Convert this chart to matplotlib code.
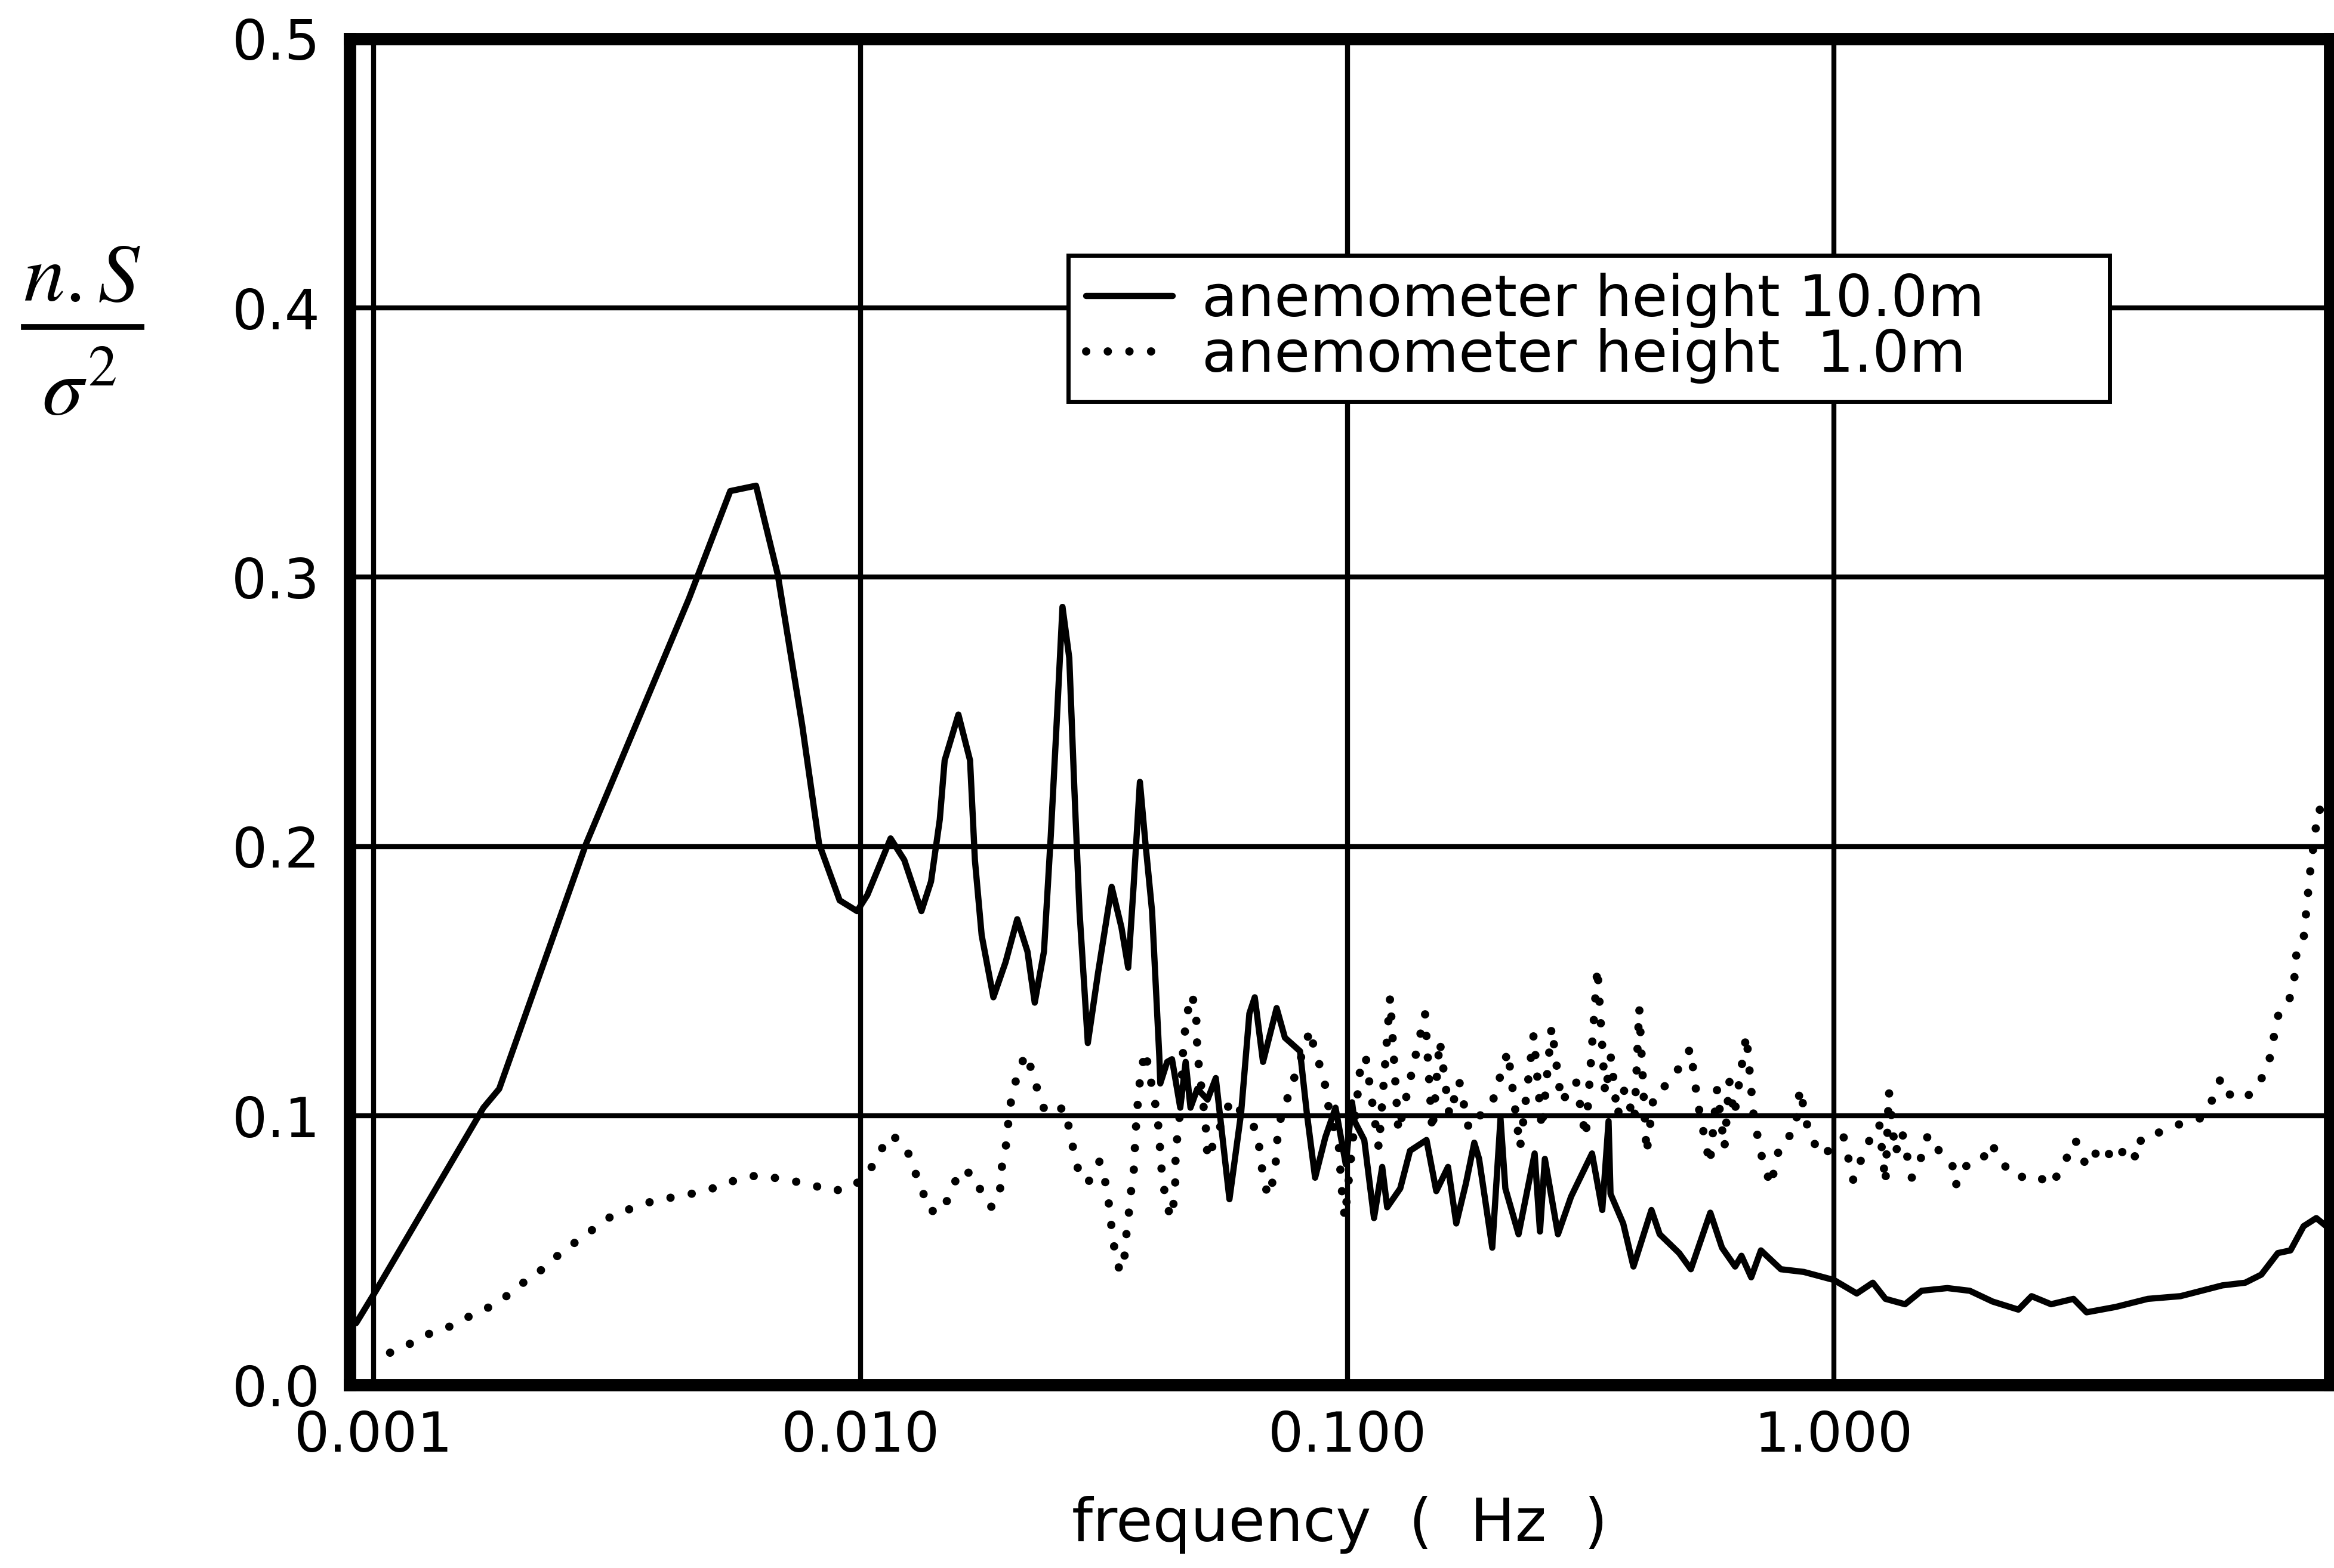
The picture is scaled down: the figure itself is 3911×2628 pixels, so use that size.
import matplotlib
matplotlib.use('Agg')
import matplotlib.pyplot as plt
from matplotlib.ticker import FixedLocator, FixedFormatter, NullLocator
from matplotlib.lines import Line2D

# ---------------- data ----------------
freq_10m = [0.00092, 0.00101, 0.00168, 0.00181, 0.00273, 0.00444, 0.00540, 0.00610, 0.00676, 0.00759,
            0.00822, 0.00906, 0.00984, 0.01033, 0.01153, 0.01230, 0.01334, 0.01396, 0.01455, 0.01489,
            0.01589, 0.01679, 0.01718, 0.01774, 0.01875, 0.01986, 0.02099, 0.02203, 0.02280, 0.02382,
            0.02460, 0.02523, 0.02600, 0.02685, 0.02748, 0.02818, 0.02931, 0.03076, 0.03281, 0.03436,
            0.03548, 0.03639, 0.03750, 0.03846, 0.03972, 0.04111, 0.04130, 0.04266, 0.04365, 0.04539,
            0.04656, 0.04764, 0.04920, 0.05164, 0.05370, 0.05728, 0.06053, 0.06295, 0.06457, 0.06714,
            0.07161, 0.07447, 0.07998, 0.08260, 0.08590, 0.09016, 0.09462, 0.09931, 0.1023, 0.1035,
            0.1084, 0.1135, 0.1180, 0.1208, 0.1285, 0.1346, 0.1455, 0.1524, 0.1611, 0.1675,
            0.1754, 0.1824, 0.1866, 0.1986, 0.2065, 0.2113, 0.2249, 0.2427, 0.2489, 0.2547,
            0.2710, 0.2884, 0.3184, 0.3342, 0.3443, 0.3475, 0.3690, 0.3873, 0.4217, 0.4385,
            0.4808, 0.5082, 0.5572, 0.5888, 0.6266, 0.6457, 0.6761, 0.7079, 0.7780, 0.8670,
            1.000, 1.114, 1.202, 1.276, 1.400, 1.514, 1.710, 1.901, 2.118, 2.393,
            2.547, 2.793, 3.105, 3.304, 3.793, 4.416, 5.152, 6.281, 6.998, 7.551,
            8.166, 8.670, 9.226, 9.795, 10.43]
spec_10m = [0.023, 0.035, 0.103, 0.110, 0.201, 0.292, 0.332, 0.334, 0.301, 0.245,
            0.201, 0.180, 0.176, 0.182, 0.203, 0.195, 0.176, 0.187, 0.210, 0.232,
            0.249, 0.232, 0.195, 0.167, 0.144, 0.157, 0.173, 0.161, 0.142, 0.161,
            0.204, 0.242, 0.289, 0.270, 0.223, 0.176, 0.127, 0.153, 0.185, 0.170,
            0.155, 0.185, 0.224, 0.202, 0.176, 0.122, 0.112, 0.120, 0.121, 0.103,
            0.120, 0.103, 0.110, 0.106, 0.114, 0.069, 0.101, 0.138, 0.144, 0.120,
            0.140, 0.129, 0.124, 0.101, 0.077, 0.092, 0.103, 0.082, 0.105, 0.098,
            0.091, 0.062, 0.081, 0.066, 0.073, 0.087, 0.091, 0.072, 0.081, 0.060,
            0.075, 0.090, 0.084, 0.051, 0.099, 0.073, 0.056, 0.086, 0.057, 0.084,
            0.056, 0.070, 0.086, 0.065, 0.098, 0.071, 0.060, 0.044, 0.065, 0.056,
            0.049, 0.043, 0.064, 0.051, 0.044, 0.048, 0.040, 0.050, 0.043, 0.042,
            0.039, 0.034, 0.038, 0.032, 0.030, 0.035, 0.036, 0.035, 0.031, 0.028,
            0.033, 0.030, 0.032, 0.027, 0.029, 0.032, 0.033, 0.037, 0.038, 0.041,
            0.049, 0.050, 0.059, 0.062, 0.058]

freq_1m = [0.00108, 0.00121, 0.00133, 0.00145, 0.00159, 0.00173, 0.00191, 0.00206, 0.00222, 0.00242,
           0.00264, 0.00288, 0.00315, 0.00347, 0.00382, 0.00428, 0.00471, 0.00522, 0.00566, 0.00630,
           0.00700, 0.00780, 0.00863, 0.00951, 0.01033, 0.01091, 0.01153, 0.01239, 0.01279, 0.01334,
           0.01374, 0.01466, 0.01538, 0.01600, 0.01718, 0.01791, 0.01862, 0.01936, 0.01954, 0.02000,
           0.02018, 0.02051, 0.02099, 0.02183, 0.02270, 0.02328, 0.02404, 0.02624, 0.02685, 0.02748,
           0.02818, 0.02931, 0.03097, 0.03199, 0.03251, 0.03281, 0.03334, 0.03412, 0.03499, 0.03524,
           0.03565, 0.03606, 0.03656, 0.03664, 0.03724, 0.03767, 0.03846, 0.04036, 0.04093, 0.04159,
           0.04227, 0.04335, 0.04426, 0.04436, 0.04440, 0.04508, 0.04613, 0.04688, 0.04764, 0.04887,
           0.04920, 0.04966, 0.05117, 0.05164, 0.05768, 0.06561, 0.06607, 0.06714, 0.06871, 0.07096,
           0.07161, 0.07211, 0.08395, 0.08590, 0.08954, 0.09078, 0.09616, 0.09727, 0.09886, 0.1067,
           0.1091, 0.1161, 0.1225, 0.1274, 0.1445, 0.1496, 0.1549, 0.1622, 0.1698, 0.1778,
           0.1995, 0.2138, 0.2265, 0.2415, 0.2512, 0.2630, 0.2754, 0.2951, 0.3090, 0.3266,
           0.3388, 0.3483, 0.3589, 0.3715, 0.3890, 0.3981, 0.4121, 0.4266, 0.4571, 0.4898,
           0.5070, 0.5248, 0.5559, 0.5754, 0.5957, 0.6095, 0.6237, 0.6607, 0.6839, 0.7079,
           0.7413, 0.7762, 0.8318, 0.8511, 0.8913, 0.9550, 1.000, 1.047, 1.096, 1.167,
           1.239, 1.276, 1.297, 1.337, 1.380, 1.445, 1.524, 1.560, 1.644, 1.750,
           1.778, 1.845, 2.009, 2.104, 2.203, 2.360, 2.606, 2.793, 2.965, 3.133,
           3.304, 3.540, 3.793, 3.999, 4.188, 4.285, 4.699, 5.152, 5.649, 5.957,
           6.237, 6.486, 6.950, 7.447, 7.852, 8.166, 8.551, 8.810, 8.933, 9.226,
           9.506, 9.886, 10.30]
spec_1m = [0.012, 0.016, 0.020, 0.022, 0.026, 0.029, 0.034, 0.039, 0.043, 0.049,
           0.054, 0.059, 0.064, 0.066, 0.069, 0.070, 0.072, 0.074, 0.077, 0.078,
           0.076, 0.075, 0.072, 0.073, 0.078, 0.086, 0.093, 0.089, 0.081, 0.074,
           0.065, 0.064, 0.072, 0.080, 0.078, 0.069, 0.066, 0.073, 0.082, 0.091,
           0.101, 0.108, 0.115, 0.123, 0.115, 0.107, 0.101, 0.103, 0.095, 0.086,
           0.078, 0.075, 0.083, 0.074, 0.065, 0.058, 0.049, 0.042, 0.049, 0.058,
           0.065, 0.074, 0.082, 0.091, 0.108, 0.116, 0.124, 0.104, 0.096, 0.079,
           0.070, 0.062, 0.070, 0.079, 0.088, 0.095, 0.128, 0.137, 0.145, 0.141,
           0.124, 0.117, 0.097, 0.084, 0.106, 0.094, 0.086, 0.078, 0.070, 0.078,
           0.087, 0.096, 0.132, 0.123, 0.115, 0.106, 0.088, 0.074, 0.062, 0.120,
           0.122, 0.088, 0.144, 0.094, 0.138, 0.094, 0.128, 0.100, 0.113, 0.095,
           0.106, 0.124, 0.088, 0.130, 0.095, 0.133, 0.105, 0.113, 0.092, 0.155,
           0.108, 0.122, 0.100, 0.110, 0.098, 0.140, 0.086, 0.108, 0.112, 0.120,
           0.125, 0.105, 0.082, 0.110, 0.088, 0.113, 0.100, 0.130, 0.100, 0.086,
           0.074, 0.090, 0.094, 0.110, 0.092, 0.085, 0.090, 0.092, 0.076, 0.089,
           0.097, 0.075, 0.109, 0.086, 0.094, 0.077, 0.086, 0.093, 0.087, 0.082,
           0.074, 0.081, 0.083, 0.090, 0.083, 0.077, 0.078, 0.074, 0.082, 0.091,
           0.081, 0.089, 0.083, 0.089, 0.084, 0.092, 0.094, 0.097, 0.099, 0.105,
           0.114, 0.108, 0.106, 0.111, 0.121, 0.137, 0.141, 0.149, 0.162, 0.166,
           0.190, 0.214, 0.212]

x_ticks = [0.001, 0.01, 0.1, 1.0]
x_tick_labels = ['0.001', '0.010', '0.100', '1.000']
y_ticks = [0.0, 0.1, 0.2, 0.3, 0.4, 0.5]
y_tick_labels = ['0.0', '0.1', '0.2', '0.3', '0.4', '0.5']
series_labels = ['anemometer height 10.0m', 'anemometer height  1.0m']
x_label = 'frequency  (  Hz  )'

# ---------------- figure ----------------
plt.rcParams['font.family'] = ['DejaVu Sans']
plt.rcParams['mathtext.fontset'] = 'stix'

fig = plt.figure(figsize=(39.11, 26.28), dpi=100)
ax = fig.add_axes([0.1499, 0.1167, 0.8482, 0.8586])
ax.set_xscale('log')
ax.set_xlim(0.000893, 10.43)
ax.set_ylim(0.0, 0.5)

ax.xaxis.set_major_locator(FixedLocator(x_ticks))
ax.xaxis.set_major_formatter(FixedFormatter(x_tick_labels))
ax.xaxis.set_minor_locator(NullLocator())
ax.yaxis.set_major_locator(FixedLocator(y_ticks))
ax.yaxis.set_major_formatter(FixedFormatter(y_tick_labels))

ax.tick_params(axis='both', length=0, labelsize=67, colors='black')
ax.tick_params(axis='x', pad=29)
ax.tick_params(axis='y', pad=36)

ax.grid(True, color='black', linewidth=6)
ax.set_axisbelow(True)

for sp in ax.spines.values():
    sp.set_linewidth(15)
    sp.set_color('black')
    sp.set_capstyle('projecting')

ax.plot(freq_10m, spec_10m, color='black', linewidth=7.5, solid_joinstyle='round',
        solid_capstyle='round', label=series_labels[0], zorder=3)
ax.plot(freq_1m, spec_1m, color='black', linewidth=10, linestyle=(0, (0.01, 2.6)),
        dash_capstyle='round', label=series_labels[1], zorder=3)

leg = ax.legend(loc='upper left', bbox_to_anchor=(0.363, 0.736, 0.526, 0.103),
                mode='expand', borderaxespad=0, fontsize=70, frameon=True,
                fancybox=False, edgecolor='black', framealpha=1,
                handlelength=1.5, handletextpad=0.5, borderpad=0.3,
                labelspacing=0.0)
leg.get_frame().set_linewidth(5)
leg.set_zorder(10)

ax.set_xlabel(x_label, fontsize=72, va='center')
ax.xaxis.set_label_coords(0.5, -0.104)

# y-axis label as a fraction  n.S / sigma^2
fig.text(0.0351, 0.8083, r'$n.S$', fontsize=100, ha='center', va='baseline')
fig.add_artist(Line2D([0.0102, 0.0606], [0.7913, 0.7913], linewidth=7,
                      color='black', transform=fig.transFigure))
fig.text(0.0338, 0.7353, r'$\sigma^2$', fontsize=100, ha='center', va='baseline')

fig.savefig('out.png', dpi=100)
